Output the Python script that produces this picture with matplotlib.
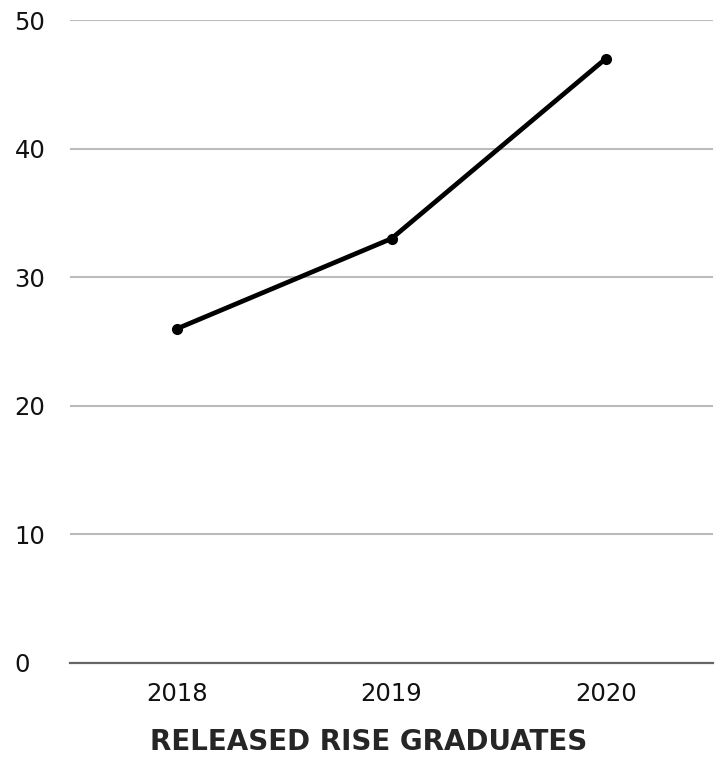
import matplotlib
matplotlib.use("Agg")
import matplotlib.pyplot as plt

years = ["2018", "2019", "2020"]
graduates = [26, 33, 47]
y_ticks = [0, 10, 20, 30, 40, 50]
title = "RELEASED RISE GRADUATES"

plt.rcParams['font.family'] = ['DejaVu Sans']
W, H = 721, 757
fig = plt.figure(figsize=(W/100, H/100), dpi=100)
ax = fig.add_axes([70/W, 1-663/H, (713-70)/W, (663-20)/H])

x = list(range(len(years)))
ax.plot(x, graduates, color='black', lw=3.4, marker='o', markersize=7, zorder=3)

ax.set_xlim(-0.5, len(years)-0.5)
ax.set_ylim(0, 50)
ax.set_yticks(y_ticks)
ax.set_yticklabels([str(t) for t in y_ticks])
ax.set_xticks(x)
ax.set_xticklabels(years)

ax.grid(axis='y', color='#bbbbbb', lw=1.5)
ax.set_axisbelow(True)
for s in ['top', 'right', 'left']:
    ax.spines[s].set_visible(False)
ax.spines['bottom'].set_color('#666666')
ax.spines['bottom'].set_linewidth(1.6)
ax.spines['bottom'].set_zorder(2)

ax.tick_params(axis='both', length=0, labelsize=17.5, labelcolor='#111111')
ax.tick_params(axis='y', pad=40)
ax.tick_params(axis='x', pad=14)
for lab in ax.get_yticklabels():
    lab.set_ha('left')

fig.text(369/W, 1-742/H, title, ha='center', va='center', fontsize=20,
         fontweight='bold', color='#262626')

fig.savefig('out.png', dpi=100)
